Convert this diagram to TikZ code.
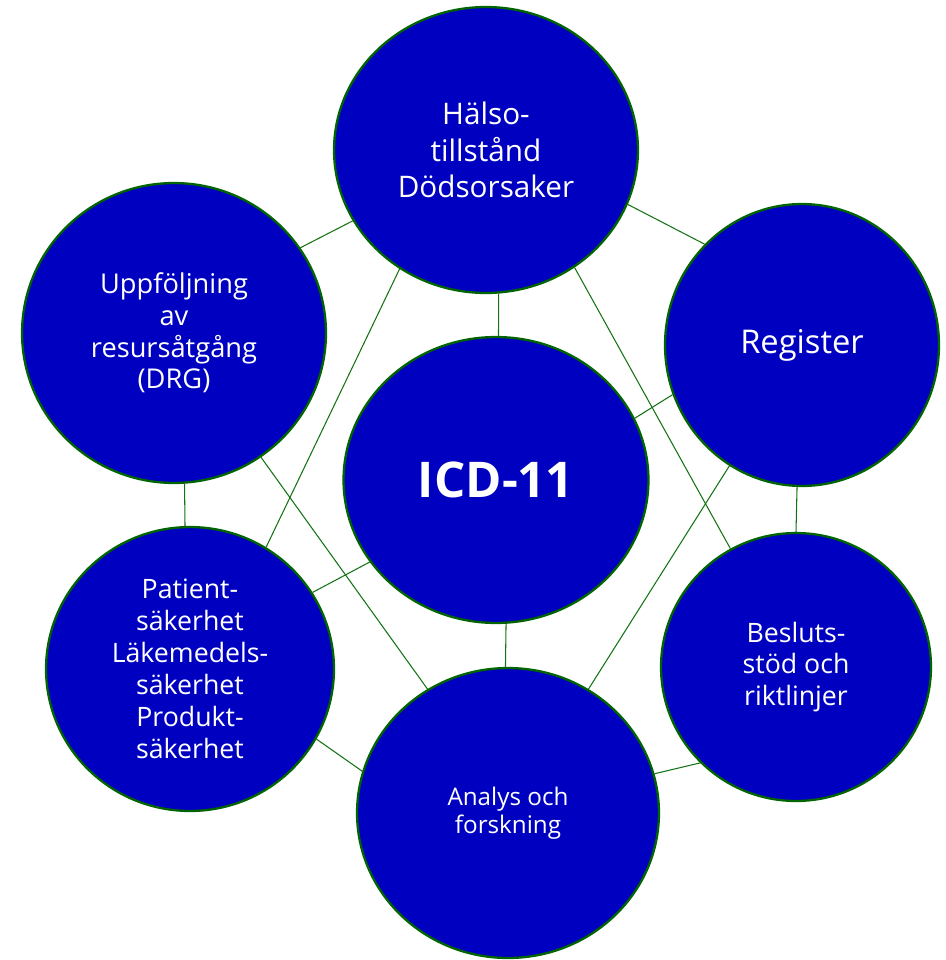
\documentclass[tikz,border=0pt]{standalone}
\usepackage{fontspec}
\setmainfont{Open Sans}
\usetikzlibrary{shapes.geometric}
\definecolor{bubbleblue}{RGB}{0,0,192}
\definecolor{rimgreen}{RGB}{0,100,0}
\definecolor{linkgreen}{RGB}{20,115,20}
\begin{document}
\begin{tikzpicture}[x=0.02cm,y=-0.02cm,
                    bubble/.style={ellipse,draw=rimgreen,line width=1.3pt,fill=bubbleblue,
                                   text=white,align=center,inner sep=0pt},
                    link/.style={draw=linkgreen,line width=0.6pt}
                   ]
  \useasboundingbox (0,0) rectangle (946,960);

  % the seven bubbles
  \node[bubble,minimum width=6.1cm,minimum height=5.72cm,font=\fontsize{28pt}{34pt}\selectfont\bfseries] (icd) at (496,480) {ICD-11};
  \node[bubble,minimum width=6.08cm,minimum height=5.72cm,font=\fontsize{16.9pt}{20.8pt}\selectfont] (hals) at (486,150) {Hälso-\\tillstånd\\Dödsorsaker};
  \node[bubble,minimum width=5.48cm,minimum height=5.64cm,font=\fontsize{18.6pt}{22pt}\selectfont] (reg) at (802,345) {Register};
  \node[bubble,minimum width=5.4cm,minimum height=5.36cm,font=\fontsize{15.2pt}{18pt}\selectfont] (bes) at (796,667) {Besluts-\\stöd och\\riktlinjer};
  \node[bubble,minimum width=6.04cm,minimum height=5.8cm,font=\fontsize{13.8pt}{15.8pt}\selectfont] (ana) at (508,813) {Analys och\\forskning};
  \node[bubble,minimum width=5.76cm,minimum height=5.68cm,font=\fontsize{15.2pt}{18.2pt}\selectfont] (pat) at (190,669) {Patient-\\säkerhet\\Läkemedels-\\säkerhet\\Produkt-\\säkerhet};
  \node[bubble,minimum width=6.08cm,minimum height=6cm,font=\fontsize{15.5pt}{18pt}\selectfont] (upp) at (174,333) {Uppföljning\\av\\resursåtgång\\(DRG)};

  % connectors
  \foreach \a/\b in {hals.-85/icd.89, hals.-21/reg.134, hals.208/upp.34,
                     reg.-92/bes.90, reg.201/icd.24, bes.225/ana.15,
                     ana.91/icd.-86, pat.-29/ana.164, pat.32/icd.213,
                     upp.-86/pat.92, hals.234/pat.58, hals.-53/bes.119,
                     reg.239/ana.57, upp.-55/ana.123} {
    \draw[link] (\a) -- (\b);
  }
\end{tikzpicture}
\end{document}
